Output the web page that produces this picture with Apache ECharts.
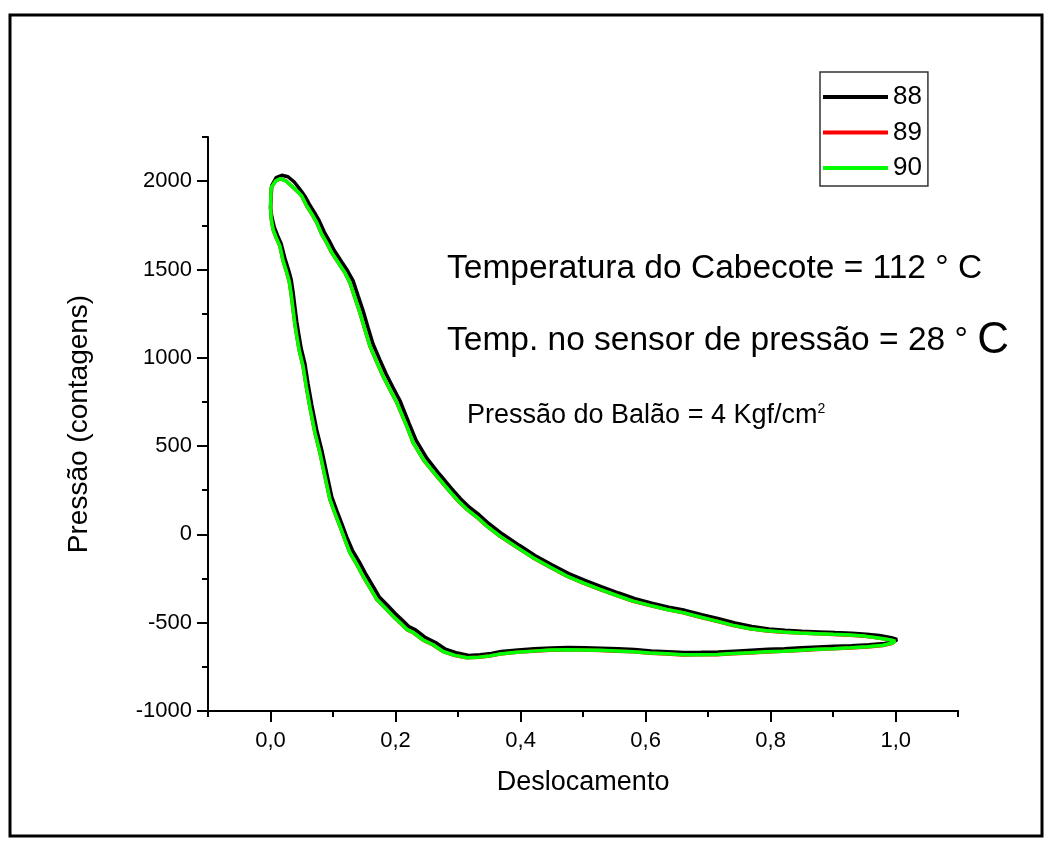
<!DOCTYPE html>
<html>
<head>
<meta charset="utf-8">
<script src="https://cdn.jsdelivr.net/npm/echarts@6/dist/echarts.min.js"></script>
<style>
html,body{margin:0;padding:0;background:#fff;}
#chart{width:1052px;height:850px;}
</style>
</head>
<body>
<div id="chart"></div>
<script>
// ---- data ----
const seriesNames = ['88', '89', '90'];
const seriesColors = ['#000000', '#ff0000', '#00ff00'];

const loop88 = [
[0.000,1850],[0.002,1975],[0.009,2020],[0.018,2033],[0.028,2025],[0.038,1995],[0.048,1950],[0.055,1915],[0.062,1870],[0.070,1825],[0.078,1775],[0.086,1712],[0.094,1662],[0.102,1607],[0.114,1542],[0.123,1494],[0.132,1437],[0.140,1352],[0.148,1268],[0.156,1172],[0.164,1078],[0.175,988],[0.185,908],[0.196,832],[0.207,758],[0.222,625],[0.233,532],[0.250,432],[0.270,342],[0.289,262],[0.304,202],[0.318,154],[0.334,110],[0.349,62],[0.371,2],[0.398,-62],[0.423,-120],[0.450,-172],[0.477,-222],[0.503,-261],[0.530,-297],[0.557,-332],[0.583,-364],[0.610,-390],[0.637,-412],[0.663,-430],[0.690,-455],[0.717,-478],[0.743,-502],[0.770,-522],[0.797,-535],[0.823,-543],[0.850,-548],[0.877,-552],[0.903,-556],[0.930,-560],[0.953,-565],[0.974,-573],[0.993,-585],[1.002,-595],
[0.997,-608],[0.982,-618],[0.957,-625],[0.929,-630],[0.902,-634],[0.876,-638],[0.849,-642],[0.822,-647],[0.796,-651],[0.769,-656],[0.742,-661],[0.716,-666],[0.689,-668],[0.662,-669],[0.636,-664],[0.609,-660],[0.582,-652],[0.556,-648],[0.529,-644],[0.502,-642],[0.476,-641],[0.449,-643],[0.422,-648],[0.396,-654],[0.369,-663],[0.353,-674],[0.335,-682],[0.317,-686],[0.299,-672],[0.280,-650],[0.264,-612],[0.248,-584],[0.232,-541],[0.222,-524],[0.211,-486],[0.200,-449],[0.187,-401],[0.174,-354],[0.163,-288],[0.152,-222],[0.142,-156],[0.131,-90],[0.122,-16],[0.114,61],[0.106,134],[0.098,212],[0.090,344],[0.082,477],[0.074,590],[0.066,734],[0.060,854],[0.055,967],[0.049,1054],[0.045,1137],[0.042,1204],[0.039,1288],[0.036,1374],[0.033,1444],[0.029,1496],[0.023,1564],[0.017,1646],[0.011,1694],[0.006,1740],[0.002,1800],[0.000,1850]
];

const loop89 = [
[0.000,1848],[0.001,1962],[0.008,2001],[0.016,2013],[0.025,2001],[0.034,1971],[0.045,1934],[0.050,1915],[0.058,1858],[0.066,1814],[0.074,1764],[0.082,1698],[0.090,1649],[0.098,1594],[0.110,1529],[0.119,1481],[0.127,1424],[0.135,1339],[0.143,1254],[0.151,1159],[0.159,1065],[0.170,974],[0.180,895],[0.191,819],[0.202,745],[0.218,612],[0.228,519],[0.245,419],[0.266,329],[0.285,249],[0.300,189],[0.314,141],[0.330,97],[0.345,49],[0.367,-11],[0.395,-76],[0.420,-133],[0.447,-186],[0.474,-237],[0.500,-276],[0.527,-312],[0.554,-347],[0.580,-379],[0.607,-403],[0.634,-426],[0.660,-444],[0.687,-469],[0.714,-492],[0.740,-516],[0.767,-535],[0.794,-547],[0.820,-554],[0.847,-559],[0.874,-563],[0.900,-567],[0.927,-571],[0.950,-577],[0.970,-586],[0.990,-597],[0.999,-605],
[0.995,-616],[0.980,-629],[0.955,-637],[0.927,-643],[0.900,-648],[0.874,-652],[0.847,-657],[0.820,-662],[0.794,-666],[0.767,-671],[0.740,-676],[0.714,-681],[0.687,-682],[0.660,-683],[0.634,-677],[0.607,-673],[0.580,-665],[0.554,-661],[0.527,-657],[0.500,-655],[0.474,-654],[0.447,-656],[0.420,-662],[0.394,-668],[0.367,-678],[0.351,-689],[0.333,-696],[0.314,-699],[0.295,-686],[0.276,-664],[0.260,-626],[0.244,-599],[0.228,-556],[0.218,-539],[0.207,-501],[0.196,-464],[0.183,-416],[0.170,-369],[0.159,-303],[0.148,-237],[0.138,-171],[0.127,-105],[0.119,-31],[0.111,46],[0.103,119],[0.095,197],[0.087,329],[0.079,462],[0.071,575],[0.063,719],[0.057,839],[0.052,952],[0.046,1039],[0.042,1122],[0.039,1189],[0.036,1273],[0.033,1359],[0.030,1429],[0.026,1481],[0.020,1549],[0.015,1631],[0.009,1679],[0.004,1726],[0.001,1789],[0.000,1848]
];

const loop90 = [
[0.000,1850],[0.001,1963],[0.008,2000],[0.016,2014],[0.025,2000],[0.034,1972],[0.045,1935],[0.050,1916],[0.058,1859],[0.066,1815],[0.074,1765],[0.082,1699],[0.090,1650],[0.098,1595],[0.110,1530],[0.119,1482],[0.127,1425],[0.135,1340],[0.143,1255],[0.151,1160],[0.159,1066],[0.170,975],[0.180,896],[0.191,820],[0.202,746],[0.218,613],[0.228,520],[0.245,420],[0.266,330],[0.285,250],[0.300,190],[0.314,142],[0.330,98],[0.345,50],[0.367,-10],[0.395,-75],[0.420,-132],[0.447,-185],[0.474,-236],[0.500,-275],[0.527,-311],[0.554,-346],[0.580,-378],[0.607,-402],[0.634,-425],[0.660,-443],[0.687,-468],[0.714,-491],[0.740,-515],[0.767,-534],[0.794,-546],[0.820,-553],[0.847,-558],[0.874,-562],[0.900,-566],[0.927,-570],[0.950,-576],[0.970,-585],[0.990,-596],[0.999,-604],
[0.995,-615],[0.980,-628],[0.955,-636],[0.927,-642],[0.900,-647],[0.874,-651],[0.847,-656],[0.820,-661],[0.794,-665],[0.767,-670],[0.740,-675],[0.714,-680],[0.687,-681],[0.660,-682],[0.634,-676],[0.607,-672],[0.580,-664],[0.554,-660],[0.527,-656],[0.500,-654],[0.474,-653],[0.447,-655],[0.420,-661],[0.394,-667],[0.367,-677],[0.351,-688],[0.333,-695],[0.314,-698],[0.295,-685],[0.276,-663],[0.260,-625],[0.244,-598],[0.228,-555],[0.218,-538],[0.207,-500],[0.196,-463],[0.183,-415],[0.170,-368],[0.159,-302],[0.148,-236],[0.138,-170],[0.127,-104],[0.119,-30],[0.111,47],[0.103,120],[0.095,198],[0.087,330],[0.079,463],[0.071,576],[0.063,720],[0.057,840],[0.052,953],[0.046,1040],[0.042,1123],[0.039,1190],[0.036,1274],[0.033,1360],[0.030,1430],[0.026,1482],[0.020,1550],[0.015,1632],[0.009,1680],[0.004,1727],[0.001,1790],[0.000,1850]
];

const xRange = [-0.1, 1.1];
const yRange = [-1000, 2250];
const xMajorTicks = [0, 1.0, 0.2];     // first, last, step of labelled ticks
const yMajorTicks = [-1000, 2000, 500];
const xTitle = 'Deslocamento';
const yTitle = 'Pressão (contagens)';
const noteLines = ['Temperatura do Cabecote = 112 ° C', 'Temp. no sensor de pressão = 28 ° ', 'Pressão do Balão = 4 Kgf/cm'];

// ---- chart ----
const FONT = "'Liberation Sans', Arial, Helvetica, sans-serif";
const chart = echarts.init(document.getElementById('chart'), null, {renderer: 'canvas'});

const G = {left: 208, right: 93.8, top: 137, bottom: 139};
const plotW = 1052 - G.left - G.right, plotH = 850 - G.top - G.bottom;
const pxX = v => G.left + (v - xRange[0]) / (xRange[1] - xRange[0]) * plotW;
const pxY = v => G.top + (yRange[1] - v) / (yRange[1] - yRange[0]) * plotH;

const axisLine = {show: true, onZero: false, lineStyle: {color: '#000', width: 2}};
const noLine = {show: false, onZero: false};

const option = {
  animation: false,
  backgroundColor: '#fff',
  textStyle: {fontFamily: FONT},
  grid: [
    {left: G.left, right: G.right, top: G.top, bottom: G.bottom},
    {left: G.left, right: G.right, top: pxY(yMajorTicks[1]), bottom: G.bottom},
    {left: pxX(xMajorTicks[0]), right: 1052 - pxX(xMajorTicks[1]), top: G.top, bottom: G.bottom}
  ],
  xAxis: [
    {
      gridIndex: 0, type: 'value', min: xRange[0], max: xRange[1], interval: 0.1,
      axisLine: axisLine,
      axisTick: {show: true, inside: false, length: 6, lineStyle: {color: '#000', width: 2}},
      splitLine: {show: false},
      axisLabel: {
        margin: 19, color: '#000', fontSize: 22, fontFamily: FONT,
        formatter: v => {
          const r = Math.round(v * 10);
          return (r >= 0 && r <= 10 && r % 2 === 0) ? (r / 10).toFixed(1).replace('.', ',') : '';
        }
      },
      name: xTitle, nameLocation: 'middle', nameGap: 58,
      nameTextStyle: {color: '#000', fontSize: 27, fontFamily: FONT}
    },
    {gridIndex: 1, type: 'value', min: xRange[0], max: xRange[1], show: false, axisLine: noLine},
    {
      gridIndex: 2, type: 'value', min: xMajorTicks[0], max: xMajorTicks[1], interval: xMajorTicks[2],
      axisLine: noLine,
      axisTick: {show: true, inside: false, length: 11, lineStyle: {color: '#000', width: 2}},
      axisLabel: {show: false}, splitLine: {show: false}
    }
  ],
  yAxis: [
    {
      gridIndex: 0, type: 'value', min: yRange[0], max: yRange[1], interval: 250,
      axisLine: axisLine,
      axisTick: {show: true, inside: false, length: 6, lineStyle: {color: '#000', width: 2}},
      splitLine: {show: false},
      axisLabel: {
        margin: 16, color: '#000', fontSize: 22, fontFamily: FONT,
        formatter: v => (Math.round(v) % 500 === 0 && v <= yMajorTicks[1]) ? String(Math.round(v)) : ''
      },
      name: yTitle, nameLocation: 'middle', nameGap: 115,
      nameTextStyle: {color: '#000', fontSize: 28, fontFamily: FONT}
    },
    {
      gridIndex: 1, type: 'value', min: yMajorTicks[0], max: yMajorTicks[1], interval: yMajorTicks[2],
      axisLine: noLine,
      axisTick: {show: true, inside: false, length: 11, lineStyle: {color: '#000', width: 2}},
      axisLabel: {show: false}, splitLine: {show: false}
    },
    {gridIndex: 2, type: 'value', min: yRange[0], max: yRange[1], show: false, axisLine: noLine}
  ],
  legend: {
    left: 820, top: 72, orient: 'vertical',
    padding: [12, 6, 5, 3],
    itemWidth: 65, itemHeight: 4, itemGap: 9.5,
    borderColor: '#333', borderWidth: 1.5,
    icon: 'rect',
    textStyle: {color: '#000', fontSize: 26, fontFamily: FONT},
    data: seriesNames
  },
  series: [loop88, loop89, loop90].map((d, i) => ({
    name: seriesNames[i], type: 'line', xAxisIndex: 0, yAxisIndex: 0,
    data: d, showSymbol: false, symbol: 'none', smooth: false,
    color: seriesColors[i],
    lineStyle: {color: seriesColors[i], width: 3.5},
    z: 2 + i
  })),
  graphic: [
    {type: 'rect', silent: true, z: -1,
     shape: {x: 10, y: 15, width: 1032, height: 821},
     style: {fill: 'none', stroke: '#000', lineWidth: 3}},
    {type: 'text', left: 447, top: 252,
     style: {text: noteLines[0], font: '33.5px ' + FONT, fill: '#000'}},
    {type: 'text', left: 447, top: 319,
     style: {rich: {a: {fontSize: 33.5, fontFamily: FONT, fill: '#000'}, b: {fontSize: 44, fontFamily: FONT, fill: '#000'}},
             text: '{a|' + noteLines[1] + '}{b|C}'}},
    {type: 'text', left: 467, top: 402,
     style: {rich: {a: {fontSize: 27, fontFamily: FONT, fill: '#000'}, s: {fontSize: 14, fontFamily: FONT, fill: '#000', verticalAlign: 'top', padding: [0,0,12,0]}},
             text: '{a|' + noteLines[2] + '}{s|2}'}}
  ]
};
chart.setOption(option);
</script>
</body>
</html>
